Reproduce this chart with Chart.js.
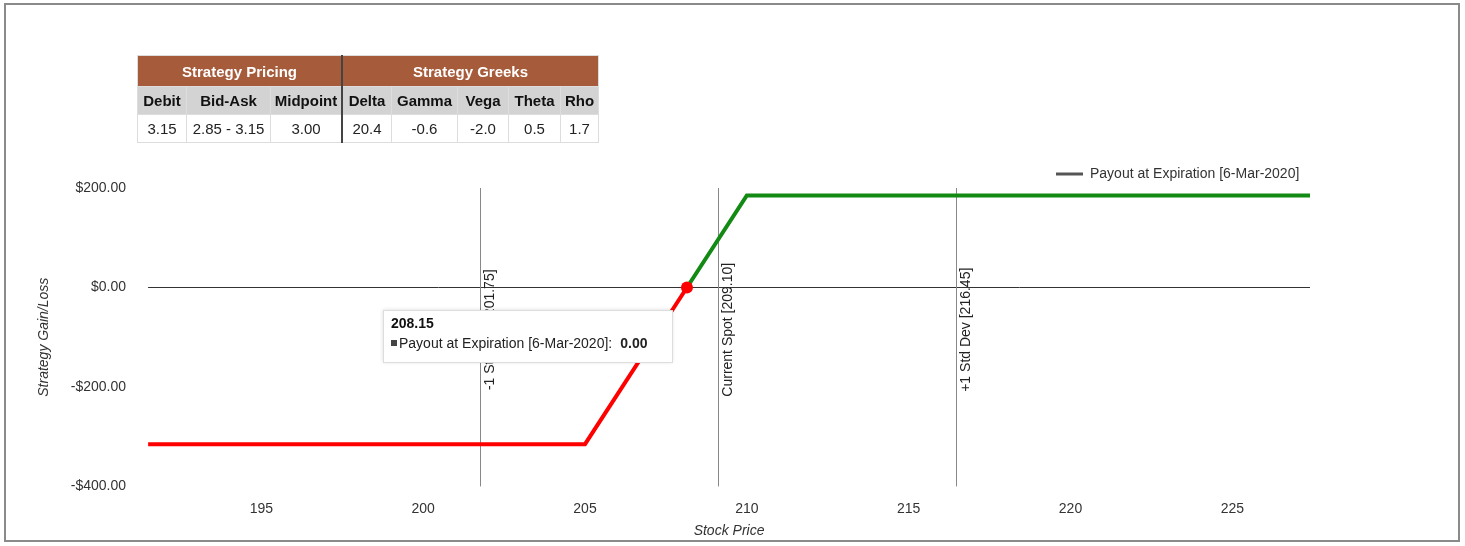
<!DOCTYPE html>
<html><head><meta charset="utf-8">
<script src="https://cdn.jsdelivr.net/npm/chart.js@4"></script>
<style>
body{margin:0;background:#fff;font-family:"Liberation Sans",Arial,sans-serif;}
#frame{position:absolute;left:4px;top:3px;width:1452px;height:535px;border:2px solid #8a8a8a;}
#wrap{position:absolute;left:0;top:0;width:1465px;height:546px;}
table{position:absolute;left:137px;top:55px;border-collapse:collapse;font-family:"Liberation Sans",Arial,sans-serif;font-size:15px;}
td,th{border:1px solid #ddd;text-align:center;padding:0 3px;height:27px;}
th.h{background:#a65b3a;color:#fff;height:30px;}
th.s{background:#d3d3d3;color:#111}
td{color:#222;background:#fff}
.sep{border-left:2px solid #444}
</style></head><body>
<div id="frame"></div>
<div id="wrap"><canvas id="c" width="1465" height="546"></canvas></div>
<table>
<tr><th class="h" colspan="3">Strategy Pricing</th><th class="h sep" colspan="5">Strategy Greeks</th></tr>
<tr><th class="s">Debit</th><th class="s">Bid-Ask</th><th class="s">Midpoint</th><th class="s sep">Delta</th><th class="s">Gamma</th><th class="s">Vega</th><th class="s">Theta</th><th class="s">Rho</th></tr>
<tr><td style="width:42px">3.15</td><td style="width:77px">2.85 - 3.15</td><td style="width:64px">3.00</td><td class="sep" style="width:42px">20.4</td><td style="width:59px">-0.6</td><td style="width:44px">-2.0</td><td style="width:45px">0.5</td><td style="width:31px">1.7</td></tr>
</table>
<script>
const lossPrices=[191.5,205,208.15];
const lossValues=[-315,-315,0];
const gainPrices=[208.15,210,227.4];
const gainValues=[0,185,185];
const xTicks=[195,200,205,210,215,220,225];
const yTicks=[200,0,-200,-400];
const markers=[{x:201.75,label:'-1 Std Dev [201.75]'},{x:209.10,label:'Current Spot [209.10]'},{x:216.45,label:'+1 Std Dev [216.45]'}];
const seriesName='Payout at Expiration [6-Mar-2020]';
const hover={x:208.15,y:0};

const F='"Liberation Sans", Arial, sans-serif';
const fmt=v=>(v<0?'-$':'$')+Math.abs(v).toFixed(2);
const deco={id:'deco',
 beforeDatasetsDraw(ch){const {ctx,chartArea:a,scales:{x,y}}=ch;ctx.save();
  ctx.strokeStyle='#333';ctx.lineWidth=1;const y0=Math.round(y.getPixelForValue(0))+0.5;
  ctx.beginPath();ctx.moveTo(a.left,y0);ctx.lineTo(a.right,y0);ctx.stroke();
  ctx.strokeStyle='#888';
  markers.forEach(m=>{const px=Math.round(x.getPixelForValue(m.x))+0.5;ctx.beginPath();ctx.moveTo(px,a.top);ctx.lineTo(px,a.bottom);ctx.stroke();
   ctx.save();ctx.translate(px+3,y.getPixelForValue(-85));ctx.rotate(-Math.PI/2);ctx.fillStyle='#222';ctx.font='14px '+F;ctx.textAlign='center';ctx.textBaseline='top';ctx.fillText(m.label,0,0);ctx.restore();});
  ctx.restore();},
 afterDraw(ch){const {ctx,scales:{x,y}}=ch;ctx.save();
  ctx.strokeStyle='#555';ctx.lineWidth=3;ctx.beginPath();ctx.moveTo(1056,174);ctx.lineTo(1083,174);ctx.stroke();
  ctx.fillStyle='#333';ctx.font='14px '+F;ctx.textBaseline='middle';ctx.fillText(seriesName,1090,174);
  const px=x.getPixelForValue(hover.x),py=y.getPixelForValue(hover.y);
  ctx.fillStyle='#f00';ctx.beginPath();ctx.arc(px,py,6,0,Math.PI*2);ctx.fill();
  const bx=383,by=310,bw=289,bh=52;
  ctx.shadowColor='rgba(0,0,0,0.15)';ctx.shadowBlur=4;ctx.fillStyle='#fff';ctx.fillRect(bx,by,bw,bh);ctx.shadowBlur=0;
  ctx.strokeStyle='#ddd';ctx.lineWidth=1;ctx.strokeRect(bx+0.5,by+0.5,bw,bh);
  ctx.fillStyle='#111';ctx.font='bold 14px '+F;ctx.fillText(hover.x.toFixed(2),391,324);
  ctx.fillStyle='#444';ctx.fillRect(391,340,6,6);
  ctx.fillStyle='#222';ctx.font='14px '+F;const t=seriesName+':';ctx.fillText(t,399,344);
  const w=ctx.measureText(t).width;
  ctx.font='bold 14px '+F;ctx.fillText(hover.y.toFixed(2),399+w+8,344);
  ctx.restore();}
};
new Chart(document.getElementById('c'),{type:'line',
 data:{datasets:[
  {data:lossPrices.map((p,i)=>({x:p,y:lossValues[i]})),borderColor:'#f00',borderWidth:4,pointRadius:0,tension:0},
  {data:gainPrices.map((p,i)=>({x:p,y:gainValues[i]})),borderColor:'#138a13',borderWidth:4,pointRadius:0,tension:0}]},
 options:{responsive:false,animation:false,devicePixelRatio:1,
  layout:{padding:{left:32,top:188,right:155,bottom:6}},
  plugins:{legend:{display:false},tooltip:{enabled:false}},
  scales:{
   x:{type:'linear',min:191.5,max:227.4,grid:{display:false},border:{display:false},
    afterBuildTicks:s=>{s.ticks=xTicks.map(v=>({value:v}));},
    ticks:{color:'#333',font:{size:14,family:F},padding:6},
    title:{display:true,text:'Stock Price',color:'#333',font:{size:14,style:'italic',family:F},padding:0}},
   y:{min:-400,max:200,grid:{display:false},border:{display:false},
    afterBuildTicks:s=>{s.ticks=yTicks.map(v=>({value:v}));},
    ticks:{color:'#333',font:{size:14,family:F},padding:14,callback:fmt},
    title:{display:true,text:'Strategy Gain/Loss',color:'#333',font:{size:14,style:'italic',family:F},padding:4}}}},
 plugins:[deco]});
</script></body></html>
